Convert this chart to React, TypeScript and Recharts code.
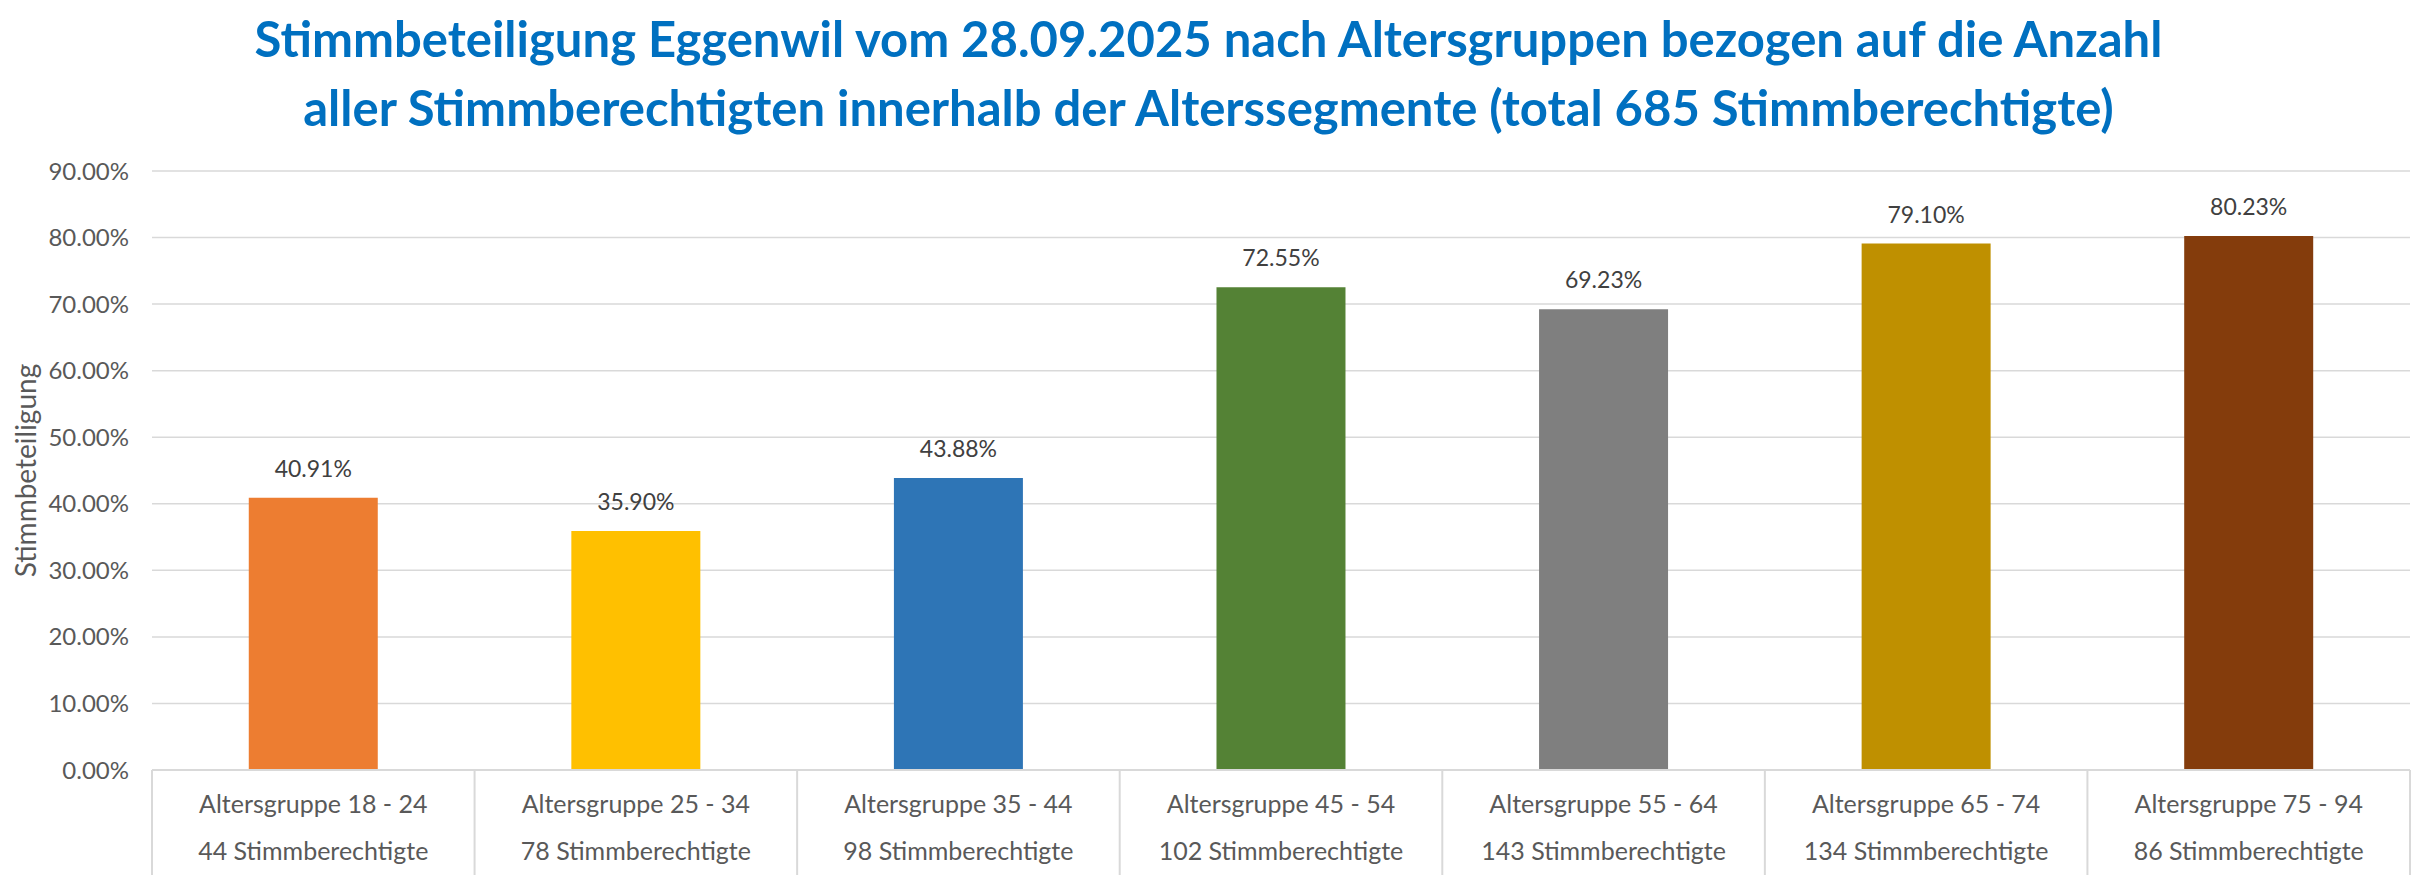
import React from 'react';
import { BarChart, Bar, XAxis, YAxis, CartesianGrid, Cell, LabelList, Label } from 'recharts';

// Stimmbeteiligung nach Altersgruppen, Eggenwil 28.09.2025
const groups = [
  'Altersgruppe 18 - 24',
  'Altersgruppe 25 - 34',
  'Altersgruppe 35 - 44',
  'Altersgruppe 45 - 54',
  'Altersgruppe 55 - 64',
  'Altersgruppe 65 - 74',
  'Altersgruppe 75 - 94',
];
const voters = [44, 78, 98, 102, 143, 134, 86];
const turnout = [40.91, 35.9, 43.88, 72.55, 69.23, 79.1, 80.23];
const barColors = ['#ED7D31', '#FFC000', '#2E75B6', '#548235', '#7F7F7F', '#BF9000', '#843C0C'];
const yTicks = [0, 10, 20, 30, 40, 50, 60, 70, 80, 90];

const data = groups.map((group, i) => ({ group, voters: voters[i], turnout: turnout[i] }));

const FONT = 'Lato, "Open Sans", sans-serif';
const GRID = '#D9D9D9';
const pct = (v: number) => `${Number(v).toFixed(2)}%`;

// two-line category label with Excel-style separators between the cells
const CategoryTick = (props: any) => {
  const { x, y, payload } = props;
  const half = payload.offset || 161;
  const top = y - 8;
  const idx = data.findIndex((d) => d.group === payload.value);
  const last = idx === data.length - 1;
  return (
    <g>
      <line x1={x - half} x2={x - half} y1={top} y2={top + 105} stroke={GRID} strokeWidth={2} />
      {last && <line x1={x + half} x2={x + half} y1={top} y2={top + 105} stroke={GRID} strokeWidth={2} />}
      <text x={x} y={top + 43} textAnchor="middle" fill="#595959" fontSize={25} fontFamily={FONT}>
        {payload.value}
      </text>
      <text x={x} y={top + 90} textAnchor="middle" fill="#595959" fontSize={25} fontFamily={FONT}>
        {`${data[idx]?.voters} Stimmberechtigte`}
      </text>
    </g>
  );
};

const YTitle = (props: any) => {
  const vb = props.viewBox || { x: 0, y: 171, width: 152, height: 599 };
  const cx = vb.x + 25;
  const cy = vb.y + vb.height / 2;
  return (
    <text
      x={cx}
      y={cy}
      transform={`rotate(-90 ${cx} ${cy})`}
      textAnchor="middle"
      dominantBaseline="central"
      fill="#595959"
      fontSize={28}
      fontFamily={FONT}
    >
      Stimmbeteiligung
    </text>
  );
};

export default function App() {
  return (
    <div style={{ position: 'absolute', left: 0, top: 0, width: 2417, height: 884, background: '#fff' }}>
      <div
        style={{
          position: 'absolute',
          left: 0,
          top: 4,
          width: 2417,
          textAlign: 'center',
          color: '#0070C0',
          fontFamily: FONT,
          fontWeight: 700,
          fontSize: 49,
          lineHeight: '69px',
        }}
      >
        Stimmbeteiligung Eggenwil vom 28.09.2025 nach Altersgruppen bezogen auf die Anzahl
        <br />
        aller Stimmberechtigten innerhalb der Alterssegmente (total 685 Stimmberechtigte)
      </div>
      <BarChart
        width={2417}
        height={884}
        data={data}
        margin={{ top: 171, right: 7, bottom: 0, left: 0 }}
        barCategoryGap="30%"
      >
        <CartesianGrid vertical={false} stroke={GRID} strokeWidth={1.5} />
        <XAxis
          dataKey="group"
          interval={0}
          height={114}
          tickLine={false}
          axisLine={{ stroke: GRID, strokeWidth: 2 }}
          tick={<CategoryTick />}
        />
        <YAxis
          width={152}
          domain={[0, 90]}
          ticks={yTicks}
          interval={0}
          tickLine={false}
          axisLine={false}
          tickMargin={17}
          tickFormatter={pct}
          tick={{ fill: '#595959', fontSize: 24, fontFamily: FONT }}
        >
          <Label content={<YTitle />} />
        </YAxis>
        <Bar dataKey="turnout" isAnimationActive={false}>
          {data.map((d, i) => (
            <Cell key={d.group} fill={barColors[i]} />
          ))}
          <LabelList
            dataKey="turnout"
            position="top"
            offset={21}
            formatter={(v: any) => pct(v)}
            fill="#404040"
            fontSize={23}
            fontFamily={FONT}
          />
        </Bar>
      </BarChart>
    </div>
  );
}
